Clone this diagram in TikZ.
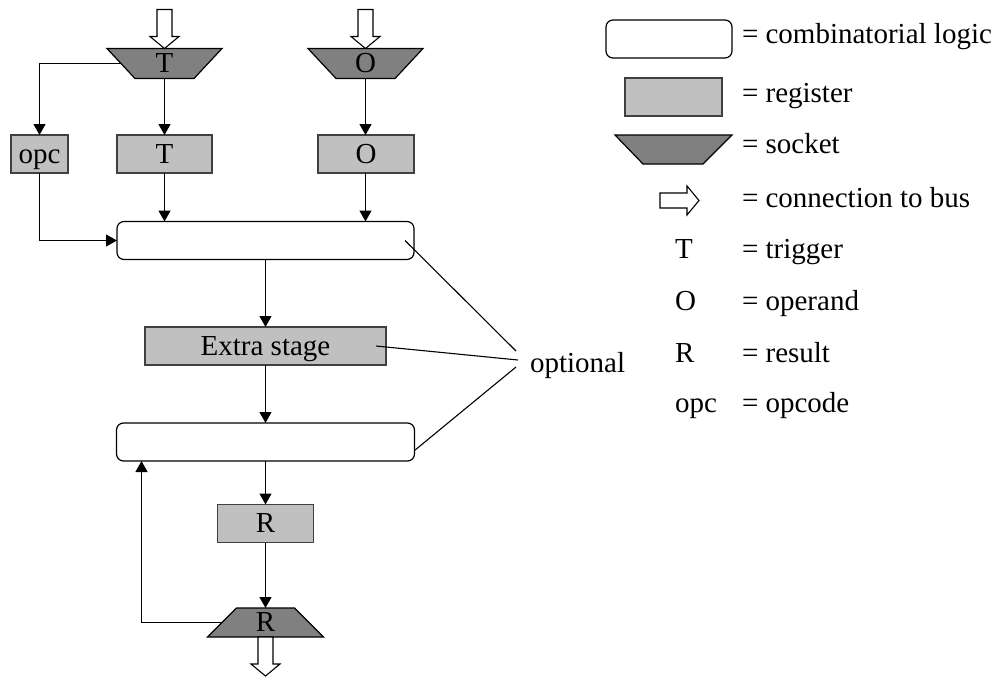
\documentclass[tikz,border=0pt]{standalone}
\usepackage{fontspec}
\setmainfont{Liberation Serif}
\usetikzlibrary{arrows.meta,calc,backgrounds}
\definecolor{regfill}{HTML}{C0C0C0}
\definecolor{regline}{HTML}{404040}
\definecolor{sockfill}{HTML}{808080}
\begin{document}
\begin{tikzpicture}[x=1pt,y=-1pt,
  font=\fontsize{29}{34}\selectfont,
  every node/.style={inner sep=0pt, outer sep=0pt},
  logicbox/.style={draw=black, line width=1.2pt, rounded corners=7pt, fill=white,
    minimum width=#1pt, minimum height=38pt},
  regbox/.style={draw=regline, line width=1.2pt, fill=regfill,
    minimum width=#1pt, minimum height=38pt, text height=18pt, text depth=0pt},
  sockcore/.style={minimum width=#1pt, minimum height=30pt, text height=18pt, text depth=0pt},
  sockshape/.style={draw=black, line width=1.2pt, fill=sockfill, line join=miter},
  conn/.style={-{Triangle[width=12pt,length=11pt]}, line width=1.2pt},
  thin line/.style={line width=1.1pt},
  busarrow/.pic={\draw[line width=1.1pt, fill=white]
    (0,0) -- (-14.5,-12) -- (-7.5,-12) -- (-7.5,-39) -- (7.5,-39) -- (7.5,-12) -- (14.5,-12) -- cycle;}
]
\useasboundingbox (0,0) rectangle (995,677);

% sockets and registers at the inputs
\node[sockcore=115] (sockT) at (164.5,63.5) {T};
\node[sockcore=115] (sockO) at (365.5,63.5) {O};
\node[regbox=57] (opc) at (39.5,154) {opc};
\node[regbox=95] (regT) at (164.5,154) {T};
\node[regbox=96] (regO) at (366,154) {O};

% pipeline
\node[logicbox=297] (logic1) at (265.5,240.5) {};
\node[regbox=241] (extra) at (265.5,346) {Extra stage};
\node[logicbox=298] (logic2) at (265.5,442) {};
\node[regbox=96] (regR) at (265.5,523.5) {R};
\node[sockcore=116, minimum height=29pt] (sockR) at (265.5,622.5) {R};

% legend shapes
\node[logicbox=126] (lgLogic) at (669,39) {};
\node[regbox=97] (lgReg) at (673.5,97) {};
\node[sockcore=117, minimum height=29pt] (lgSock) at (673.5,149.5) {};

% socket outlines behind their labels
\begin{scope}[on background layer]
  \foreach \s in {sockT,sockO}
    \draw[sockshape] (\s.north west) -- (\s.north east)
      -- ([xshift=-28pt]\s.south east) -- ([xshift=28pt]\s.south west) -- cycle;
  \draw[sockshape] (lgSock.north west) -- (lgSock.north east)
      -- ([xshift=-29pt]lgSock.south east) -- ([xshift=28pt]lgSock.south west) -- cycle;
  \draw[sockshape] ([xshift=29pt]sockR.north west) -- ([xshift=-29pt]sockR.north east)
      -- (sockR.south east) -- (sockR.south west) -- cycle;
\end{scope}

% bus connections
\pic at (sockT.north) {busarrow};
\pic at (sockO.north) {busarrow};
\pic at ([yshift=-39pt]sockR.south) {busarrow};
\pic[rotate=90] at (699,200.5) {busarrow};

% data flow
\draw[conn] ([xshift=14pt]sockT.west) -| (opc.north);
\draw[conn] (sockT.south) -- (sockT.south |- regT.north);
\draw[conn] (sockO.south) -- (sockO.south |- regO.north);
\draw[conn] (opc.south) |- (logic1.west);
\draw[conn] (regT.south) -- (regT.south |- logic1.north);
\draw[conn] (sockO.south |- regO.south) -- (sockO.south |- logic1.north);
\draw[conn] (logic1.south -| extra.north) -- (extra.north);
\draw[conn] (extra.south) -- (extra.south |- logic2.north);
\draw[conn] (logic2.south -| regR.north) -- (regR.north);
\draw[conn] (regR.south) -- (sockR.north);
\draw[conn] ([xshift=14.5pt]sockR.west) -| ([xshift=25pt]logic2.south west);

% optional parts
\node[anchor=base west] (opt) at (530,372) {optional};
\coordinate (optA) at (516,351);
\coordinate (optB) at (518,360);
\coordinate (optC) at (516,367);
\draw[thin line] ([xshift=-9pt]logic1.east) -- (optA);
\draw[thin line] ([xshift=-10pt]extra.east) -- (optB);
\draw[thin line] ([yshift=-8.5pt]logic2.east) -- (optC);

% legend texts
\node[anchor=base west] (lgLogicTxt) at (742,44) {= combinatorial logic};
\node[anchor=base west] (lgRegTxt) at (742,102) {= register};
\node[anchor=base west] (lgSockTxt) at (742,153) {= socket};
\node[anchor=base west] (lgBusTxt) at (742,207) {= connection to bus};
\node[anchor=base west] (lgT) at (675,258) {T};
\node[anchor=base west] (lgTTxt) at (742,258) {= trigger};
\node[anchor=base west] (lgO) at (675,310) {O};
\node[anchor=base west] (lgOTxt) at (742,310) {= operand};
\node[anchor=base west] (lgR) at (675,362) {R};
\node[anchor=base west] (lgRTxt) at (742,362) {= result};
\node[anchor=base west] (lgOpc) at (675,412) {opc};
\node[anchor=base west] (lgOpcTxt) at (742,412) {= opcode};
\end{tikzpicture}
\end{document}
